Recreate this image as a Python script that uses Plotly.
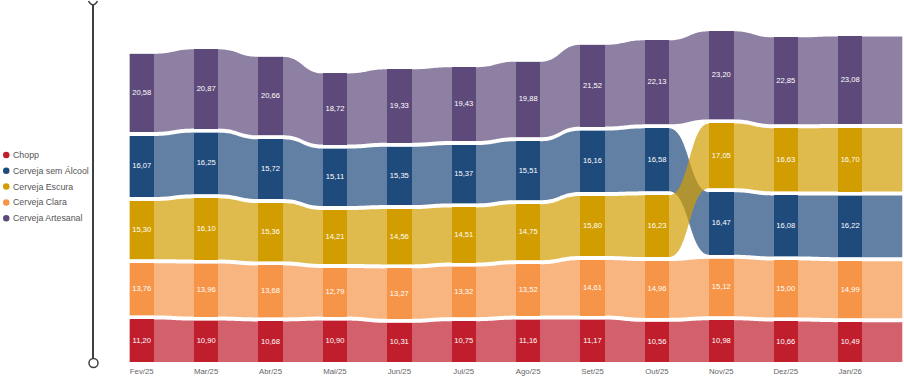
import numpy as np
import plotly.graph_objects as go

# ---------------- data ----------------
months = ["Fev/25", "Mar/25", "Abr/25", "Mai/25", "Jun/25", "Jul/25",
          "Ago/25", "Set/25", "Out/25", "Nov/25", "Dez/25", "Jan/26"]
categories = ["Chopp", "Cerveja sem Álcool", "Cerveja Escura",
              "Cerveja Clara", "Cerveja Artesanal"]
chopp = [11.20, 10.90, 10.68, 10.90, 10.31, 10.75, 11.16, 11.17, 10.56, 10.98, 10.66, 10.49]
sem_alcool = [16.07, 16.25, 15.72, 15.11, 15.35, 15.37, 15.51, 16.16, 16.58, 16.47, 16.08, 16.22]
escura = [15.30, 16.10, 15.36, 14.21, 14.56, 14.51, 14.75, 15.80, 16.23, 17.05, 16.63, 16.70]
clara = [13.76, 13.96, 13.68, 12.79, 13.27, 13.32, 13.52, 14.61, 14.96, 15.12, 15.00, 14.99]
artesanal = [20.58, 20.87, 20.66, 18.72, 19.33, 19.43, 19.88, 21.52, 22.13, 23.20, 22.85, 23.08]

values = {
    "Chopp": chopp,
    "Cerveja sem Álcool": sem_alcool,
    "Cerveja Escura": escura,
    "Cerveja Clara": clara,
    "Cerveja Artesanal": artesanal,
}
colors = {
    "Chopp": (192, 30, 46),
    "Cerveja sem Álcool": (31, 74, 124),
    "Cerveja Escura": (210, 157, 0),
    "Cerveja Clara": (246, 149, 72),
    "Cerveja Artesanal": (94, 74, 122),
}

# ---------------- geometry ----------------
W, H = 904, 379
PLOT_BOTTOM = 362          # px
PX_PER_UNIT = 3.80
BAND_PX = 64.4
X0_PX = 129.5
GAP = 4 / PX_PER_UNIT      # white gap between stacked segments
BW = 0.38                  # bar width (fraction of band)
n = len(months)

bottoms = {c: [0.0] * n for c in categories}
tops = {c: [0.0] * n for c in categories}
for i in range(n):
    order = sorted(categories, key=lambda c: values[c][i])
    y = 0.0
    for c in order:
        bottoms[c][i] = y
        tops[c][i] = y + values[c][i]
        y = tops[c][i] + GAP


def edge(ys):
    xs, yy = [], []
    for i in range(n):
        xs += [i, i + BW]
        yy += [ys[i], ys[i]]
        if i < n - 1:
            xa, xb = i + BW, i + 1
            for t in np.linspace(0, 1, 30)[1:-1]:
                bx = xa + (xb - xa) * (1.5 * t * (1 - t) + t ** 3)
                by = ys[i] + (ys[i + 1] - ys[i]) * (3 * t ** 2 - 2 * t ** 3)
                xs.append(bx)
                yy.append(by)
    xs.append(n)
    yy.append(ys[-1])
    return xs, yy


fig = go.Figure()

# ribbons
for c in categories:
    r, g, b = colors[c]
    xt, yt = edge(tops[c])
    xb, yb = edge(bottoms[c])
    fig.add_trace(go.Scatter(
        x=xt + xb[::-1], y=yt + yb[::-1],
        fill="toself", mode="none",
        fillcolor=f"rgba({r},{g},{b},0.7)",
        hoverinfo="skip", showlegend=False,
    ))

# bars
xc = [i + BW / 2 for i in range(n)]
for c in categories:
    r, g, b = colors[c]
    fig.add_trace(go.Bar(
        x=xc, y=values[c], base=bottoms[c], width=BW,
        marker=dict(color=f"rgb({r},{g},{b})", line=dict(width=0)),
        opacity=1, name=c, showlegend=False,
    ))

# labels
for c in categories:
    fig.add_trace(go.Scatter(
        x=xc,
        y=[(bottoms[c][i] + tops[c][i]) / 2 for i in range(n)],
        text=[f"{v:.2f}".replace(".", ",") for v in values[c]],
        mode="text",
        textfont=dict(color="white", size=7.6, family="Liberation Sans, Arial, sans-serif"),
        hoverinfo="skip", showlegend=False,
    ))

plot_h = PLOT_BOTTOM


def px_x(p):
    return p / W


def px_y(p):
    return (plot_h - p) / plot_h


shapes = []
# axis decoration
ax_x = 93
shapes.append(dict(type="line", xref="paper", yref="paper",
                   x0=px_x(ax_x), x1=px_x(ax_x), y0=px_y(5), y1=px_y(359),
                   line=dict(color="#3f3f3f", width=2)))
shapes.append(dict(type="path", xref="paper", yref="paper",
                   path=f"M {px_x(88.5)},{px_y(1)} Q {px_x(93)},{px_y(9)} {px_x(97.5)},{px_y(1)}",
                   line=dict(color="#3f3f3f", width=1.5)))
shapes.append(dict(type="circle", xref="paper", yref="paper",
                   x0=px_x(89), x1=px_x(98), y0=px_y(367.5), y1=px_y(358.5),
                   line=dict(color="#3f3f3f", width=1.5), fillcolor="white"))

# legend
annotations = []
leg_y = [155, 170.8, 186.6, 202.4, 218.2]
for c, ly in zip(categories, leg_y):
    r, g, b = colors[c]
    shapes.append(dict(type="circle", xref="paper", yref="paper",
                       x0=px_x(3), x1=px_x(9.5), y0=px_y(ly + 3.25), y1=px_y(ly - 3.25),
                       line=dict(width=0), fillcolor=f"rgb({r},{g},{b})"))
    annotations.append(dict(xref="paper", yref="paper", x=px_x(11), y=px_y(ly),
                            text=c, showarrow=False, xanchor="left", yanchor="middle",
                            font=dict(size=8.8, color="#555555",
                                      family="Liberation Sans, Arial, sans-serif")))

fig.update_layout(
    width=W, height=H,
    margin=dict(l=0, r=0, t=0, b=H - PLOT_BOTTOM, pad=0),
    paper_bgcolor="white", plot_bgcolor="white",
    barmode="overlay", bargap=0,
    showlegend=False,
    shapes=shapes, annotations=annotations,
    xaxis=dict(range=[-X0_PX / BAND_PX, (W - X0_PX) / BAND_PX],
               tickvals=xc, ticktext=months, ticks="outside", ticklen=2,
               tickcolor="rgba(0,0,0,0)",
               showgrid=False, zeroline=False, showline=False, automargin=False,
               tickfont=dict(size=7.8, color="#666666",
                             family="Liberation Sans, Arial, sans-serif")),
    yaxis=dict(range=[0, PLOT_BOTTOM / PX_PER_UNIT], visible=False,
               showgrid=False, zeroline=False, automargin=False),
)

fig.write_html("out.html",
               config={"displayModeBar": False},
               post_script="document.body.style.margin='0';document.body.style.overflow='hidden';")
